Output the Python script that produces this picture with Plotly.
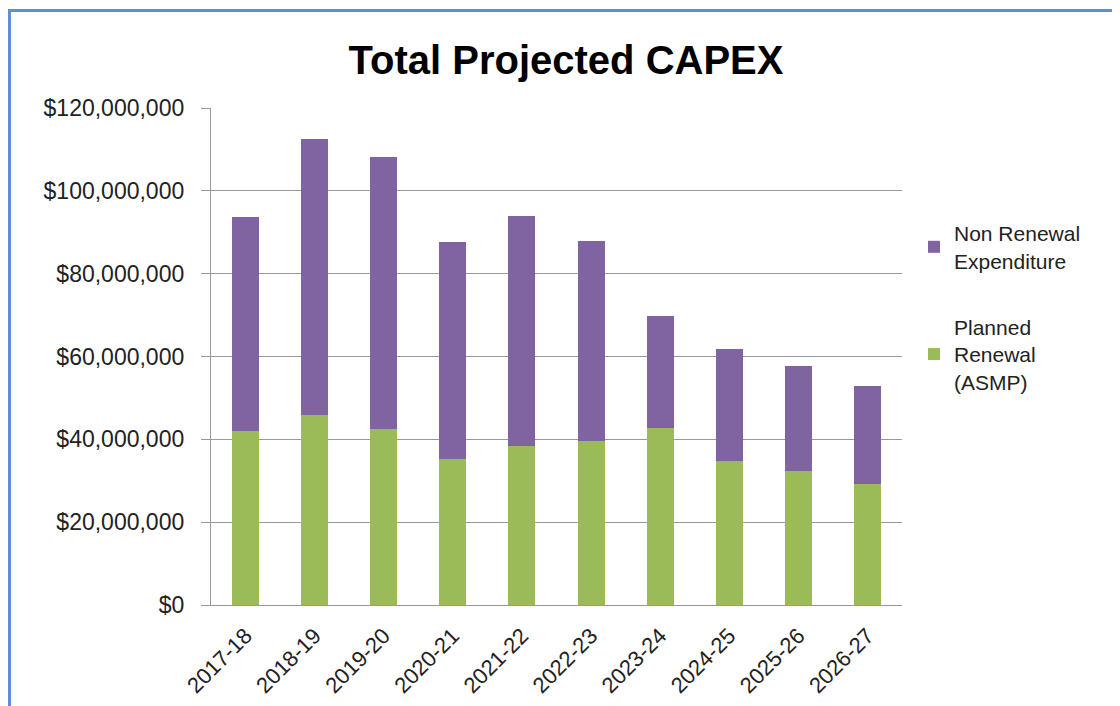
import plotly.graph_objects as go

years = ["2017-18", "2018-19", "2019-20", "2020-21", "2021-22",
         "2022-23", "2023-24", "2024-25", "2025-26", "2026-27"]

# values in $
planned_renewal = [42.0e6, 45.9e6, 42.6e6, 35.3e6, 38.3e6,
                   39.6e6, 42.8e6, 34.7e6, 32.3e6, 29.1e6]
non_renewal = [51.6e6, 66.5e6, 65.5e6, 52.4e6, 55.6e6,
               48.4e6, 26.9e6, 27.0e6, 25.5e6, 23.8e6]

FONT = "Liberation Sans"
GREEN = "#9BBB59"
PURPLE = "#8064A2"
GRID = "#999999"

# page body adds an 8px offset, so figure coords = screen coords - 8
OFF = 8
W, H = 1120, 706
L, T = 211 - OFF, 108 - OFF
R = W - (902 - OFF)
B = H - (605 - OFF)
pw, ph = W - L - R, H - T - B


def px_x(sx):
    return (sx - OFF - L) / pw


def px_y(sy):
    return (H - B - (sy - OFF)) / ph


fig = go.Figure()
fig.add_trace(go.Bar(
    x=years, y=planned_renewal, name="Planned<br>Renewal<br>(ASMP)",
    marker=dict(color=GREEN, line=dict(width=0)),
    legendgroup="b", legendrank=2,
))
fig.add_trace(go.Bar(
    x=years, y=non_renewal, name="Non Renewal<br>Expenditure",
    marker=dict(color=PURPLE, line=dict(width=0)),
    legendgroup="a", legendrank=1,
))

# blue frame around the chart
fig.add_shape(
    type="rect", xref="paper", yref="paper",
    x0=px_x(OFF + 1.5), x1=px_x(1140),
    y0=px_y(730), y1=px_y(OFF + 2.5),
    line=dict(color="#5B8FD8", width=3), fillcolor="rgba(0,0,0,0)",
    layer="above",
)

fig.update_layout(
    width=W, height=H,
    margin=dict(l=L, r=R, t=T, b=B),
    barmode="stack", bargap=0.61,
    paper_bgcolor="white", plot_bgcolor="white",
    font=dict(family=FONT, color="#222222"),
    title=dict(
        text="<b>Total Projected CAPEX</b>",
        font=dict(family=FONT, size=40, color="black"),
        x=(566 - OFF) / W, xanchor="center",
        y=1 - (60 - OFF) / H, yanchor="middle", yref="container",
    ),
    legend=dict(
        x=px_x(914), xanchor="left",
        y=px_y(213), yanchor="top",
        traceorder="grouped", tracegroupgap=36,
        font=dict(family=FONT, size=21, color="#222222"),
        bgcolor="rgba(0,0,0,0)",
    ),
    showlegend=True,
)

fig.update_yaxes(
    range=[0, 120e6], dtick=20e6, tickformat="$,.0f",
    showgrid=True, gridcolor=GRID, gridwidth=1.3,
    showline=True, linecolor=GRID, linewidth=1.3,
    ticks="outside", ticklen=9, tickcolor=GRID,
    ticklabelstandoff=12,
    tickfont=dict(family=FONT, size=23, color="#222222"),
    zeroline=False, fixedrange=True,
)
fig.update_xaxes(
    tickangle=-45, showline=True, linecolor=GRID, linewidth=1.3,
    ticks="", ticklabelstandoff=8,
    tickfont=dict(family=FONT, size=22, color="#222222"),
    fixedrange=True,
)

fig.write_html("out.html")
